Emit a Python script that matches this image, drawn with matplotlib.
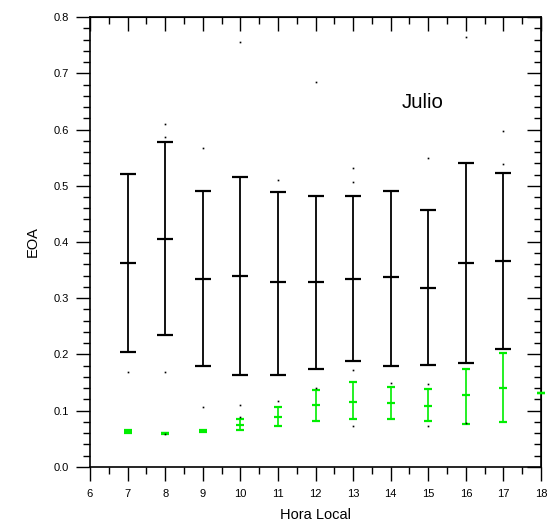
import numpy as np
import matplotlib
matplotlib.use('Agg')
import matplotlib.pyplot as plt
from matplotlib.ticker import MultipleLocator

plt.rcParams['font.family'] = ['Liberation Sans', 'DejaVu Sans']

# Hora local
horas = [7, 8, 9, 10, 11, 12, 13, 14, 15, 16, 17]

# Serie negra: media, minimo y maximo
negro_media = [0.362, 0.405, 0.335, 0.340, 0.328, 0.328, 0.335, 0.337, 0.319, 0.362, 0.367]
negro_min = [0.205, 0.235, 0.180, 0.164, 0.164, 0.175, 0.189, 0.180, 0.182, 0.184, 0.210]
negro_max = [0.521, 0.577, 0.491, 0.515, 0.489, 0.481, 0.481, 0.491, 0.457, 0.540, 0.522]

# Serie verde
horas_v = [7, 8, 9, 10, 11, 12, 13, 14, 15, 16, 17, 18]
verde_media = [0.063, 0.060, 0.064, 0.075, 0.089, 0.110, 0.116, 0.114, 0.109, 0.128, 0.141, 0.132]
verde_min = [0.061, 0.059, 0.062, 0.066, 0.072, 0.082, 0.085, 0.085, 0.082, 0.077, 0.080, 0.132]
verde_max = [0.065, 0.061, 0.066, 0.085, 0.107, 0.137, 0.151, 0.143, 0.139, 0.175, 0.203, 0.132]

# Puntos individuales dispersos
puntos_x = [10, 12, 8, 8, 9, 11, 16, 17, 17, 15, 13, 13, 7, 8, 9, 10, 10, 11, 12, 8, 13, 13, 14, 15, 15, 16]
puntos_y = [0.755, 0.684, 0.609, 0.586, 0.568, 0.511, 0.764, 0.597, 0.538, 0.549, 0.531, 0.506,
            0.168, 0.168, 0.106, 0.110, 0.089, 0.117, 0.140, 0.058, 0.172, 0.073, 0.149, 0.147,
            0.073, 0.078]

fig = plt.figure(figsize=(5.51, 5.25), dpi=100)
ax = fig.add_axes([0.1633, 0.1105, 0.8186, 0.8571])

nm = np.array(negro_media)
ax.errorbar(horas, nm, yerr=[nm - np.array(negro_min), np.array(negro_max) - nm],
            fmt='_', color='black', ecolor='black', elinewidth=1.3, capsize=5.8,
            capthick=1.4, markersize=11.6, markeredgewidth=1.6, zorder=3)

vm = np.array(verde_media)
ax.errorbar(horas_v, vm, yerr=[vm - np.array(verde_min), np.array(verde_max) - vm],
            fmt='_', color='#00ee00', ecolor='#00ee00', elinewidth=1.2, capsize=2.9,
            capthick=1.4, markersize=5.8, markeredgewidth=1.6, zorder=4, clip_on=False)

ax.plot(puntos_x, puntos_y, 's', color='black', markersize=1.2, markeredgewidth=0, zorder=5)

ax.text(14.3, 0.639, 'Julio', fontsize=14.7)

ax.set_xlim(6, 18)
ax.set_ylim(0, 0.8)
ax.xaxis.set_major_locator(MultipleLocator(1))
ax.xaxis.set_minor_locator(MultipleLocator(0.5))
ax.yaxis.set_major_locator(MultipleLocator(0.1))
ax.yaxis.set_minor_locator(MultipleLocator(0.02))
ax.yaxis.set_major_formatter(plt.FormatStrFormatter('%.1f'))

ax.tick_params(which='major', direction='out', length=10, width=1, labelsize=8)
ax.tick_params(which='minor', direction='out', length=5, width=1)
ax.tick_params(axis='x', which='major', pad=6)
ax.tick_params(axis='y', which='major', pad=5)
ax.tick_params(which='both', top=False, right=False)

# ticks interiores arriba y a la derecha
sec_x = ax.secondary_xaxis('top')
sec_x.xaxis.set_major_locator(MultipleLocator(1))
sec_x.xaxis.set_minor_locator(MultipleLocator(0.5))
sec_x.tick_params(which='major', direction='in', length=10, width=1, labeltop=False)
sec_x.tick_params(which='minor', direction='in', length=5, width=1)
sec_y = ax.secondary_yaxis('right')
sec_y.yaxis.set_major_locator(MultipleLocator(0.1))
sec_y.yaxis.set_minor_locator(MultipleLocator(0.02))
sec_y.tick_params(which='major', direction='in', length=10, width=1, labelright=False)
sec_y.tick_params(which='minor', direction='in', length=5, width=1)

for s in ax.spines.values():
    s.set_linewidth(1.2)

ax.set_xlabel('Hora Local', fontsize=10.5, labelpad=6)
ax.set_ylabel('EOA', fontsize=10.5, labelpad=10)

fig.savefig('out.png', dpi=100)
